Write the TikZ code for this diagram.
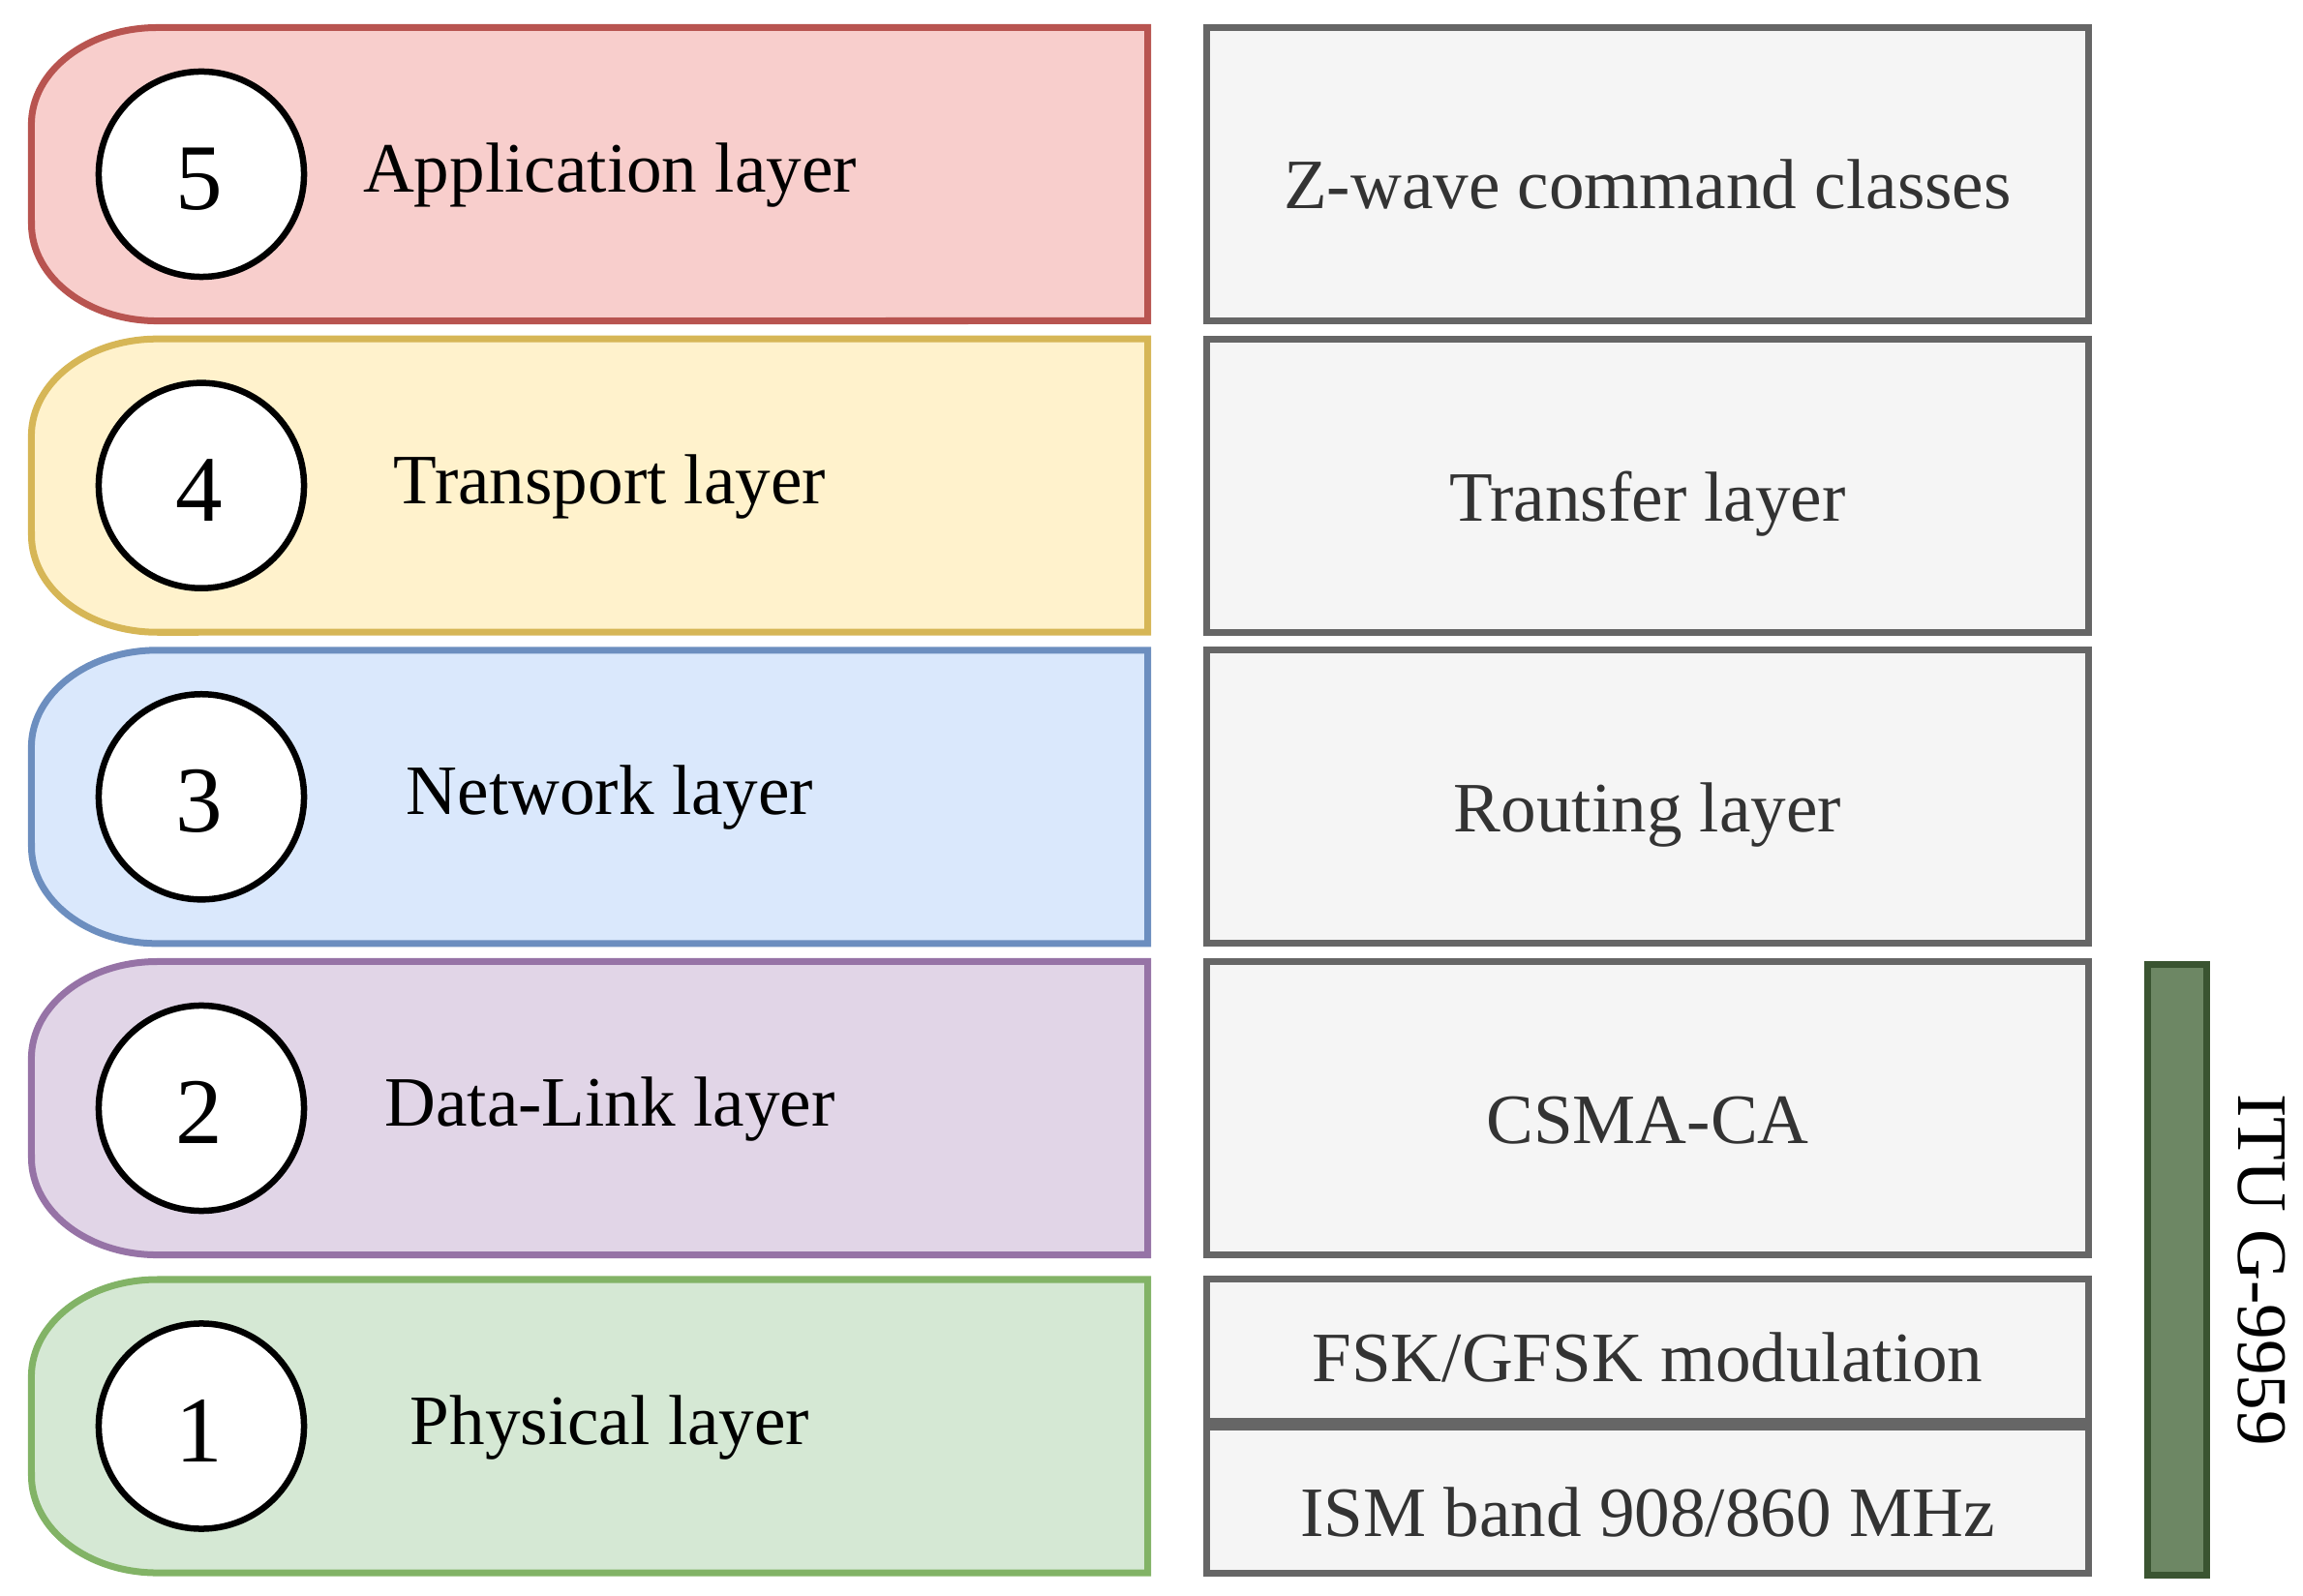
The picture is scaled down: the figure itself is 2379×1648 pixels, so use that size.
\documentclass[tikz,border=0pt]{standalone}
\usepackage{fontspec}
\setmainfont{Liberation Serif}
\definecolor{redF}{HTML}{F8CECC}\definecolor{redD}{HTML}{B85450}
\definecolor{yelF}{HTML}{FFF2CC}\definecolor{yelD}{HTML}{D6B656}
\definecolor{bluF}{HTML}{DAE8FC}\definecolor{bluD}{HTML}{6C8EBF}
\definecolor{purF}{HTML}{E1D5E7}\definecolor{purD}{HTML}{9673A6}
\definecolor{grnF}{HTML}{D5E8D4}\definecolor{grnD}{HTML}{82B366}
\definecolor{gryF}{HTML}{F5F5F5}\definecolor{gryD}{HTML}{666666}\definecolor{gryT}{HTML}{333333}
\definecolor{barF}{HTML}{6D8764}\definecolor{barD}{HTML}{3A5431}
\tikzset{
  leftbox/.style={line width=0.07cm, line join=miter},
  numcircle/.style={circle, draw=black, fill=white, line width=0.065cm, minimum size=2.12cm, inner sep=0pt},
  digit/.style={anchor=base, inner sep=0pt, font=\fontsize{27.6pt}{32pt}\selectfont},
  ltext/.style={anchor=base, inner sep=0pt, text=black, font=\fontsize{20.8pt}{25pt}\selectfont},
  rbox/.style={rectangle, draw=gryD, fill=gryF, line width=0.07cm, minimum width=9.11cm, inner sep=0pt},
  rtext/.style={anchor=base, inner sep=0pt, text=gryT, font=\fontsize{20.8pt}{25pt}\selectfont},
  itubar/.style={rectangle, draw=barD, fill=barF, line width=0.07cm, minimum width=0.61cm, minimum height=6.305cm, inner sep=0pt},
}
\newcommand\layerrow[7]{%
  \pgfmathsetmacro\tT{1648-#2}%
  \pgfmathsetmacro\tB{1648-#2-303}%
  \pgfmathsetmacro\tC{1648-#2-151.5}%
  \draw[leftbox, fill=#3, draw=#4] (1185.5,\tT) -- (162.5,\tT)
     arc[start angle=90, end angle=180, x radius=1.3cm, y radius=1cm]
     -- (32.5,{\tB+100})
     arc[start angle=180, end angle=270, x radius=1.3cm, y radius=1cm]
     -- (1185.5,\tB) -- cycle;
  \node[numcircle] (c#1) at (208,\tC) {};
  \node[digit] (d#1) at (206,{\tT-188}) {#5};
  \node[ltext] (l#1) at (630,{\tT-170}) {#6};
}
\begin{document}
\begin{tikzpicture}[x=0.01cm, y=0.01cm]
\useasboundingbox (0,0) rectangle (2379,1648);
\layerrow{5}{28.5}{redF}{redD}{5}{Application layer}{}
\layerrow{4}{350.2}{yelF}{yelD}{4}{Transport layer}{}
\layerrow{3}{671.8}{bluF}{bluD}{3}{Network layer}{}
\layerrow{2}{993.5}{purF}{purD}{2}{Data-Link layer}{}
\layerrow{1}{1322}{grnF}{grnD}{1}{Physical layer}{}
% right column
\node[rbox, minimum height=3.03cm] (r5) at (1702,{1648-180}) {};
\node[rtext] (rt5) at (1702,{1648-216}) {Z-wave command classes};
\node[rbox, minimum height=3.03cm] (r4) at (1702,{1648-501.7}) {};
\node[rtext] (rt4) at (1702,{1648-538.2}) {Transfer layer};
\node[rbox, minimum height=3.03cm] (r3) at (1702,{1648-823.3}) {};
\node[rtext] (rt3) at (1702,{1648-859.8}) {Routing layer};
\node[rbox, minimum height=3.03cm] (r2) at (1702,{1648-1145}) {};
\node[rtext] (rt2) at (1702,{1648-1181.5}) {CSMA-CA};
\node[rbox, minimum height=1.465cm] (r1a) at (1702,{1648-1395.25}) {};
\node[rtext] (rt1a) at (1702,{1648-1427}) {FSK/GFSK modulation};
\node[rbox, minimum height=1.505cm] (r1b) at (1702,{1648-1549.75}) {};
\node[rtext] (rt1b) at (1702,{1648-1587}) {ISM band 908/860 MHz};
% ITU bar
\node[itubar] (bar) at (2249,{1648-1311.75}) {};
\node[ltext, rotate=-90] (itu) at (2312,{1648-1312}) {ITU G-9959};
\end{tikzpicture}
\end{document}
